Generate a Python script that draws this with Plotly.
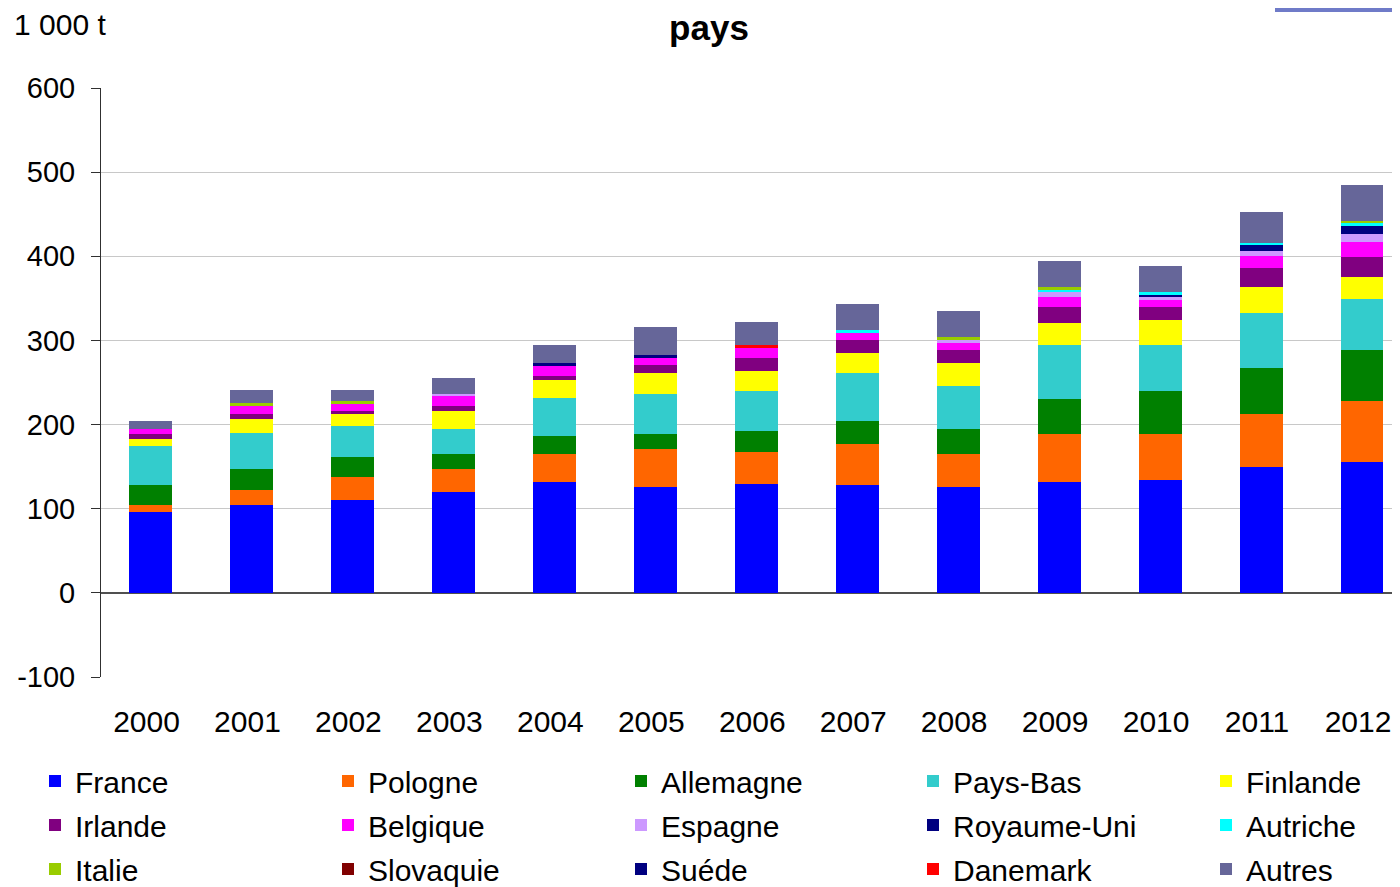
import plotly.graph_objects as go

# Quantities in 1 000 t
years = ["2000", "2001", "2002", "2003", "2004", "2005", "2006",
         "2007", "2008", "2009", "2010", "2011", "2012"]

france = [96, 104.5, 110.5, 120, 132, 126, 129.5, 128, 126, 132, 134, 150, 155.5]
pologne = [8.5, 18, 27, 27, 33, 45, 38, 49, 39, 57, 55, 63, 72.5]
allemagne = [24, 25, 24, 18, 21.5, 18, 25, 27, 30, 41.5, 51, 54.5, 60.5]
pays_bas = [46, 42, 37, 30, 45, 47.5, 47.5, 57, 51, 64, 54.5, 65.5, 60.5]
finlande = [8, 17.5, 14, 21, 21.5, 25, 24, 24, 27.5, 26, 29.5, 31, 26]
irlande = [6, 6, 3.5, 6, 5, 9.5, 15.5, 15.5, 15.5, 19, 15.5, 21.5, 24]
belgique = [6, 9.5, 8, 12, 12, 8.5, 12, 8, 8.5, 12, 8.5, 14.5, 18]
espagne = [0, 0, 0, 2.5, 0, 0, 0, 0, 3.5, 6, 3.5, 6, 9.5]
royaume_uni = [0, 0, 0, 0, 3.5, 3.5, 0, 0, 0, 0, 2.5, 7, 9.5]
autriche = [0, 0, 0, 0, 0, 0, 0, 3.5, 0, 2.7, 3.5, 2.5, 3]
italie = [0, 3.5, 3.5, 0, 0, 0, 0, 0, 2.5, 3.3, 0, 0, 3]
slovaquie = [0, 0, 0, 0, 0, 0, 0, 0, 0, 0, 0, 0, 0]
suede = [0, 0, 0, 0, 0, 0, 0, 0, 0, 0, 0, 0, 0]
danemark = [0, 0, 0, 0, 0, 0, 3.5, 0, 0, 0, 0, 0, 0]
autres = [10, 15.5, 13, 19, 21, 33, 27.5, 31, 31, 31, 31, 37, 42.5]

y_ticks = [-100, 0, 100, 200, 300, 400, 500, 600]

series = [
    ("France", france, "#0000FF"),
    ("Pologne", pologne, "#FF6600"),
    ("Allemagne", allemagne, "#008000"),
    ("Pays-Bas", pays_bas, "#33CCCC"),
    ("Finlande", finlande, "#FFFF00"),
    ("Irlande", irlande, "#800080"),
    ("Belgique", belgique, "#FF00FF"),
    ("Espagne", espagne, "#CC99FF"),
    ("Royaume-Uni", royaume_uni, "#000080"),
    ("Autriche", autriche, "#00FFFF"),
    ("Italie", italie, "#99CC00"),
    ("Slovaquie", slovaquie, "#800000"),
    ("Suéde", suede, "#000080"),
    ("Danemark", danemark, "#FF0000"),
    ("Autres", autres, "#666699"),
]

FONT = "Liberation Sans, Arial, sans-serif"
PAGE_W, PAGE_H = 1400, 887
OFF = 8  # default body margin of the html page
W, H = PAGE_W - 2 * OFF, PAGE_H - OFF

# plot area in page pixels
PLOT_L, PLOT_R, PLOT_T, PLOT_B = 101, OFF + W, 88, 677
ML, MR, MT, MB = PLOT_L - OFF, OFF + W - PLOT_R, PLOT_T - OFF, OFF + H - PLOT_B
PW, PH = W - ML - MR, H - MT - MB
CAT_W = 100.96  # px per category in the reference
x_range = [-(150.5 - PLOT_L) / CAT_W, 12 + (PLOT_R - 1362) / CAT_W]
N_COLS = 5
COL_LEFT = [35, 328, 621, 913, 1206]  # legend columns, page px
LEGEND_TOP = 755


def px_x(px):
    return (px - PLOT_L) / PW


def px_y(px):
    return (PLOT_B - px) / PH


fig = go.Figure()
for i, (name, values, color) in enumerate(series):
    col = i % N_COLS
    fig.add_trace(
        go.Bar(
            x=years,
            y=values,
            name=name,
            legend="legend" if col == 0 else f"legend{col + 1}",
            legendgroup=name,
            marker={"color": color, "line": {"width": 0}},
        )
    )

legend_common = {
    "orientation": "v",
    "xanchor": "left",
    "y": px_y(LEGEND_TOP),
    "yanchor": "top",
    "traceorder": "grouped",
    "tracegroupgap": 2,
    "font": {"size": 30, "family": FONT},
    "bgcolor": "rgba(0,0,0,0)",
}
legends = {}
for col in range(N_COLS):
    key = "legend" if col == 0 else f"legend{col + 1}"
    legends[key] = dict(legend_common, x=px_x(COL_LEFT[col]))

# small tick marks on the zero line, between categories
boundaries = [i - 0.5 for i in range(len(years) + 1)]

fig.update_layout(
    width=W,
    height=H,
    barmode="stack",
    bargap=0.575,
    paper_bgcolor="white",
    plot_bgcolor="white",
    font={"family": FONT, "size": 29, "color": "black"},
    margin={"l": ML, "r": MR, "t": MT, "b": MB, "pad": 0, "autoexpand": False},
    title={
        "text": "<b>pays</b>",
        "font": {"size": 35, "family": FONT},
        "x": px_x(709),
        "xref": "paper",
        "xanchor": "center",
        "y": 1 - (28 - OFF) / H,
        "yanchor": "middle",
    },
    xaxis={
        "type": "category",
        "range": x_range,
        "showgrid": False,
        "showline": False,
        "ticks": "",
        "ticklabelstandoff": 24,
        "ticklabelshift": -4,
        "tickfont": {"size": 30},
        "fixedrange": True,
    },
    xaxis2={
        "overlaying": "x",
        "anchor": "free",
        "position": 100 / 700,
        "side": "bottom",
        "range": x_range,
        "tickmode": "array",
        "tickvals": boundaries,
        "showticklabels": False,
        "ticks": "outside",
        "ticklen": 8,
        "tickwidth": 1.5,
        "tickcolor": "#505050",
        "showline": False,
        "showgrid": False,
        "zeroline": False,
    },
    yaxis={
        "range": [-100, 600],
        "tickmode": "array",
        "tickvals": y_ticks,
        "ticktext": [str(v) for v in y_ticks],
        "showgrid": True,
        "gridcolor": "#C8C8C8",
        "gridwidth": 1,
        "zeroline": True,
        "zerolinecolor": "#505050",
        "zerolinewidth": 1.5,
        "showline": True,
        "linecolor": "#303030",
        "linewidth": 1,
        "ticks": "outside",
        "ticklen": 9,
        "tickcolor": "#303030",
        "ticklabelstandoff": 10,
        "tickfont": {"size": 29},
    },
    showlegend=True,
    annotations=[
        {
            "text": "1 000 t",
            "xref": "paper",
            "yref": "paper",
            "x": px_x(12),
            "y": px_y(25),
            "xanchor": "left",
            "yanchor": "middle",
            "showarrow": False,
            "font": {"size": 30, "family": FONT},
        }
    ],
    shapes=[
        {
            "type": "rect",
            "xref": "paper",
            "yref": "paper",
            "x0": px_x(1275),
            "x1": 1.0,
            "y0": px_y(12),
            "y1": px_y(OFF),
            "fillcolor": "#6F7BC8",
            "line": {"width": 0},
        }
    ],
    **legends,
)

fig.write_html("out.html", config={"displayModeBar": False})
